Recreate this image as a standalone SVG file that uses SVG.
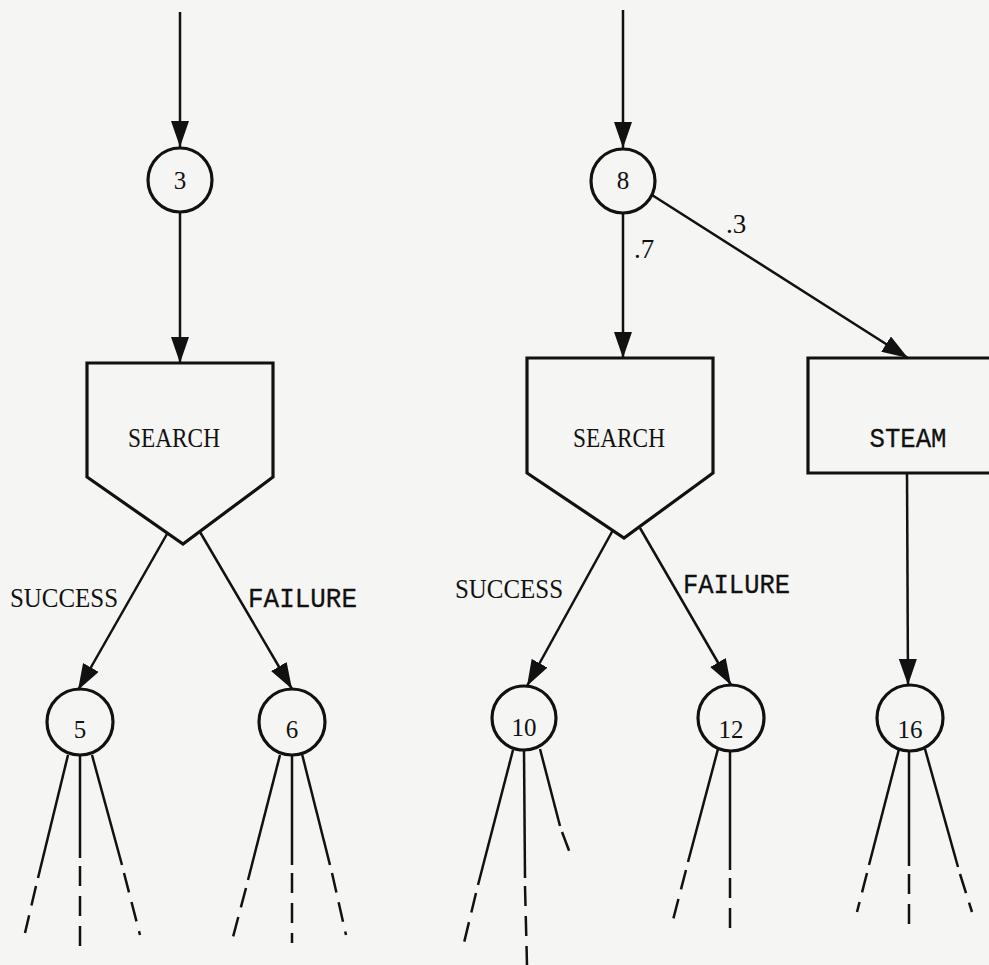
<svg xmlns="http://www.w3.org/2000/svg" width="989" height="965" viewBox="0 0 989 965">
<defs>
<marker id="arr" viewBox="0 0 26 18" refX="26" refY="9" markerWidth="26" markerHeight="18" markerUnits="userSpaceOnUse" orient="auto">
<path d="M0,0 L26,9 L0,18 z" fill="#111"/>
</marker>
<style>
.node{fill:none;stroke:#111;stroke-width:3.2}
.num{font-family:"Liberation Serif",serif;font-size:25px;fill:#111;text-anchor:middle}
.lbl{font-family:"Liberation Serif",serif;font-size:27px;fill:#111}
.big{font-family:"Liberation Serif",serif;font-size:28px;fill:#111}
.prob{font-family:"Liberation Serif",serif;font-size:27px;fill:#111}
.mono{font-family:"Liberation Mono",monospace;font-size:28px;fill:#111;stroke:#111;stroke-width:0.3}
.edge{stroke:#111;stroke-width:2.5;fill:none}
.arrow{stroke:#111;stroke-width:2.5;fill:none;marker-end:url(#arr)}
.dash{stroke:#111;stroke-width:2.5;fill:none;stroke-dasharray:20 10}
</style>
</defs>
<rect width="989" height="965" fill="#f5f5f3"/>

<g id="connectors">
<line class="arrow" x1="180" y1="12" x2="180" y2="147"/>
<line class="arrow" x1="180" y1="212" x2="180" y2="363"/>
<line class="arrow" x1="623" y1="10" x2="623" y2="148"/>
<line class="arrow" x1="623" y1="214" x2="623" y2="358"/>
<line class="arrow" x1="652" y1="195" x2="908" y2="358"/>
<line class="arrow" x1="167" y1="534" x2="78" y2="690"/>
<line class="arrow" x1="200" y1="532" x2="292" y2="689"/>
<line class="arrow" x1="613" y1="530" x2="527" y2="686"/>
<line class="arrow" x1="640" y1="528" x2="731" y2="685"/>
<line class="arrow" x1="907" y1="473" x2="908" y2="685"/>

<!-- node 5 branches -->
<line class="edge" x1="68" y1="755" x2="38" y2="878"/><line class="dash" x1="36" y1="886" x2="25" y2="933"/>
<line class="edge" x1="80" y1="755" x2="80" y2="858"/><line class="dash" x1="80" y1="866" x2="80" y2="952"/>
<line class="edge" x1="92" y1="755" x2="122" y2="865"/><line class="dash" x1="124" y1="873" x2="140" y2="935"/>
<!-- node 6 branches -->
<line class="edge" x1="280" y1="755" x2="248" y2="880"/><line class="dash" x1="246" y1="888" x2="233" y2="937"/>
<line class="edge" x1="292" y1="755" x2="292" y2="865"/><line class="dash" x1="292" y1="873" x2="292" y2="943"/>
<line class="edge" x1="302" y1="754" x2="330" y2="865"/><line class="dash" x1="332" y1="873" x2="346" y2="935"/>
<!-- node 10 branches -->
<line class="edge" x1="513" y1="750" x2="478" y2="885"/><line class="dash" x1="476" y1="893" x2="463" y2="947"/>
<line class="edge" x1="524" y1="751" x2="525" y2="878"/><line class="dash" x1="525" y1="886" x2="527" y2="965"/>
<line class="edge" x1="540" y1="749" x2="560" y2="826"/><line class="dash" x1="562" y1="832" x2="570" y2="853"/>
<!-- node 12 branches -->
<line class="edge" x1="718" y1="749" x2="688" y2="862"/><line class="dash" x1="686" y1="870" x2="673" y2="920"/>
<line class="edge" x1="730" y1="751" x2="730" y2="870"/><line class="dash" x1="730" y1="878" x2="730" y2="938"/>
<!-- node 16 branches -->
<line class="edge" x1="899" y1="749" x2="869" y2="865"/><line class="dash" x1="867" y1="873" x2="857" y2="912"/>
<line class="edge" x1="909" y1="751" x2="909" y2="866"/><line class="dash" x1="909" y1="874" x2="909" y2="928"/>
<line class="edge" x1="925" y1="749" x2="958" y2="867"/><line class="dash" x1="960" y1="874" x2="972" y2="912"/>

<text class="prob" x="634" y="258">.7</text>
<text class="prob" x="726" y="233">.3</text>
<text class="big" x="10" y="607" textLength="108" lengthAdjust="spacingAndGlyphs">SUCCESS</text>
<text class="mono" x="248" y="607" textLength="109" lengthAdjust="spacingAndGlyphs">FAILURE</text>
<text class="big" x="455" y="598" textLength="108" lengthAdjust="spacingAndGlyphs">SUCCESS</text>
<text class="mono" x="683" y="593" textLength="107" lengthAdjust="spacingAndGlyphs">FAILURE</text>
</g>

<g id="n3"><circle class="node" cx="180" cy="180" r="32"/><text class="num" x="180" y="189">3</text></g>
<g id="n8"><circle class="node" cx="623" cy="181" r="32"/><text class="num" x="623" y="189">8</text></g>

<g id="search1"><path class="node" d="M87,363 L273,363 L273,477 L183,544 L87,477 Z"/><text class="lbl" x="174" y="447" text-anchor="middle" textLength="92" lengthAdjust="spacingAndGlyphs">SEARCH</text></g>
<g id="search2"><path class="node" d="M527,358 L713,358 L713,473 L624,538 L527,473 Z"/><text class="lbl" x="619" y="447" text-anchor="middle" textLength="92" lengthAdjust="spacingAndGlyphs">SEARCH</text></g>
<g id="steam"><path class="node" d="M995,358 L808,358 L808,473 L995,473"/><text class="mono" x="908" y="447" text-anchor="middle" textLength="77" lengthAdjust="spacingAndGlyphs">STEAM</text></g>

<g id="n5"><circle class="node" cx="80" cy="722" r="33"/><text class="num" x="80" y="738">5</text></g>
<g id="n6"><circle class="node" cx="292" cy="722" r="33"/><text class="num" x="292" y="738">6</text></g>
<g id="n10"><circle class="node" cx="524" cy="718" r="32"/><text class="num" x="524" y="736">10</text></g>
<g id="n12"><circle class="node" cx="731" cy="718" r="33"/><text class="num" x="731" y="738">12</text></g>
<g id="n16"><circle class="node" cx="910" cy="718" r="33"/><text class="num" x="910" y="738">16</text></g>
</svg>
